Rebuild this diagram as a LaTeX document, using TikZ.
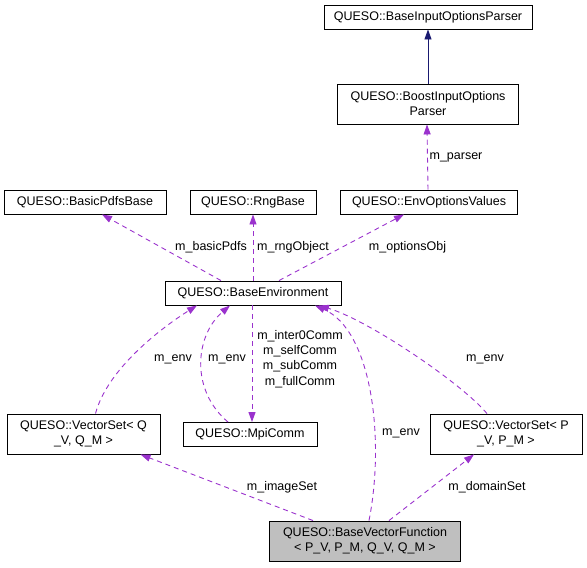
\documentclass[tikz,border=0pt]{standalone}
\usepackage{fontspec}
\setmainfont{Liberation Sans}
\usepackage{xcolor}
\definecolor{edgepurple}{RGB}{154,50,205}
\definecolor{edgenavy}{RGB}{25,25,112}
\definecolor{boxgray}{RGB}{191,191,191}
\usetikzlibrary{arrows.meta}
\newcommand{\heightone}{24pt}
\newcommand{\heighttwo}{40pt}
\tikzset{
    common/.style={draw, rectangle, line width=0.9pt, inner sep=0pt, align=center, font=\fontsize{12.5}{15}\selectfont},
    oneline/.style={common, minimum height=\heightone},
    twoline/.style={common, minimum height=\heighttwo},
    current/.style={twoline, fill=boxgray},
    role/.style={inner sep=0pt, align=center, font=\fontsize{12.5}{15.3}\selectfont},
    tip/.style={-{Triangle[length=10pt, width=7pt]}},
    member/.style={tip, edgepurple, line width=0.9pt, dash pattern=on 5pt off 4pt},
    inherit/.style={tip, edgenavy, line width=0.9pt}
}

\begin{document}
\begin{tikzpicture}[x=1pt, y=-1pt]
    \useasboundingbox (0,0) rectangle (587,568);

    \node[oneline, minimum width=208pt] (base-parser) at (428,17) {QUESO::BaseInputOptionsParser};
    \node[twoline, minimum width=181pt] (boost-parser) at (428,104) {QUESO::BoostInputOptions\\Parser};
    \node[oneline, minimum width=177pt] (env-options) at (429,202) {QUESO::EnvOptionsValues};
    \node[oneline, minimum width=162pt] (basic-pdfs) at (85,202) {QUESO::BasicPdfsBase};
    \node[oneline, minimum width=126pt] (rng-base) at (253,202) {QUESO::RngBase};
    \node[oneline, minimum width=176pt] (base-env) at (253,293) {QUESO::BaseEnvironment};
    \node[twoline, minimum width=153pt] (vset-q) at (83.5,434) {QUESO::VectorSet< Q\\\_V, Q\_M >};
    \node[oneline, minimum width=134pt] (mpi-comm) at (250,434.5) {QUESO::MpiComm};
    \node[twoline, minimum width=152pt] (vset-p) at (506,434) {QUESO::VectorSet< P\\\_V, P\_M >};
    \node[current, minimum width=191pt] (vec-fun) at (365,541) {QUESO::BaseVectorFunction\\< P\_V, P\_M, Q\_V, Q\_M >};

    \node[role] (lbl-parser) at (456,157) {m\_parser};
    \node[role] (lbl-pdfs) at (211,247) {m\_basicPdfs};
    \node[role] (lbl-rng) at (293,247) {m\_rngObject};
    \node[role] (lbl-opts) at (407.5,247) {m\_optionsObj};
    \node[role] (lbl-env-q) at (173,359) {m\_env};
    \node[role] (lbl-env-mpi) at (227,359) {m\_env};
    \node[role] (lbl-comm) at (300,359) {m\_inter0Comm\\m\_selfComm\\m\_subComm\\m\_fullComm};
    \node[role] (lbl-env-p) at (485,359) {m\_env};
    \node[role] (lbl-env-fun) at (401,433) {m\_env};
    \node[role] (lbl-image) at (282,487) {m\_imageSet};
    \node[role] (lbl-domain) at (487,487) {m\_domainSet};

    \draw[inherit] (boost-parser.north) -- (base-parser.south);
    \draw[member] ([xshift=-1]env-options.north) -- ([xshift=-1]boost-parser.south);

    \draw[member] ([xshift=-32]base-env.north) -- ([xshift=17]basic-pdfs.south);
    \draw[member] (base-env.north) -- (rng-base.south);
    \draw[member] ([xshift=26]base-env.north) -- ([xshift=-25]env-options.south);

    \draw[member] ([xshift=12]vset-q.north) .. controls +(12,-45) and +(-35,22) .. ([xshift=-56]base-env.south);
    \draw[member] ([xshift=-22]mpi-comm.north) .. controls +(-38,-32) and +(-35,30) .. ([xshift=-23]base-env.south);
    \draw[member] ([xshift=-1]base-env.south) -- ([xshift=2]mpi-comm.north);
    \draw[member] ([xshift=4]vec-fun.north) .. controls +(16,-81) and +(57,25) .. ([xshift=62]base-env.south);
    \draw[member] ([xshift=-19]vset-p.north) .. controls +(-25,-30) and +(50,15) .. ([xshift=66]base-env.south);

    \draw[member] ([xshift=-52]vec-fun.north) -- ([xshift=57]vset-q.south);
    \draw[member] ([xshift=24]vec-fun.north) -- ([xshift=-32]vset-p.south);
\end{tikzpicture}
\end{document}
